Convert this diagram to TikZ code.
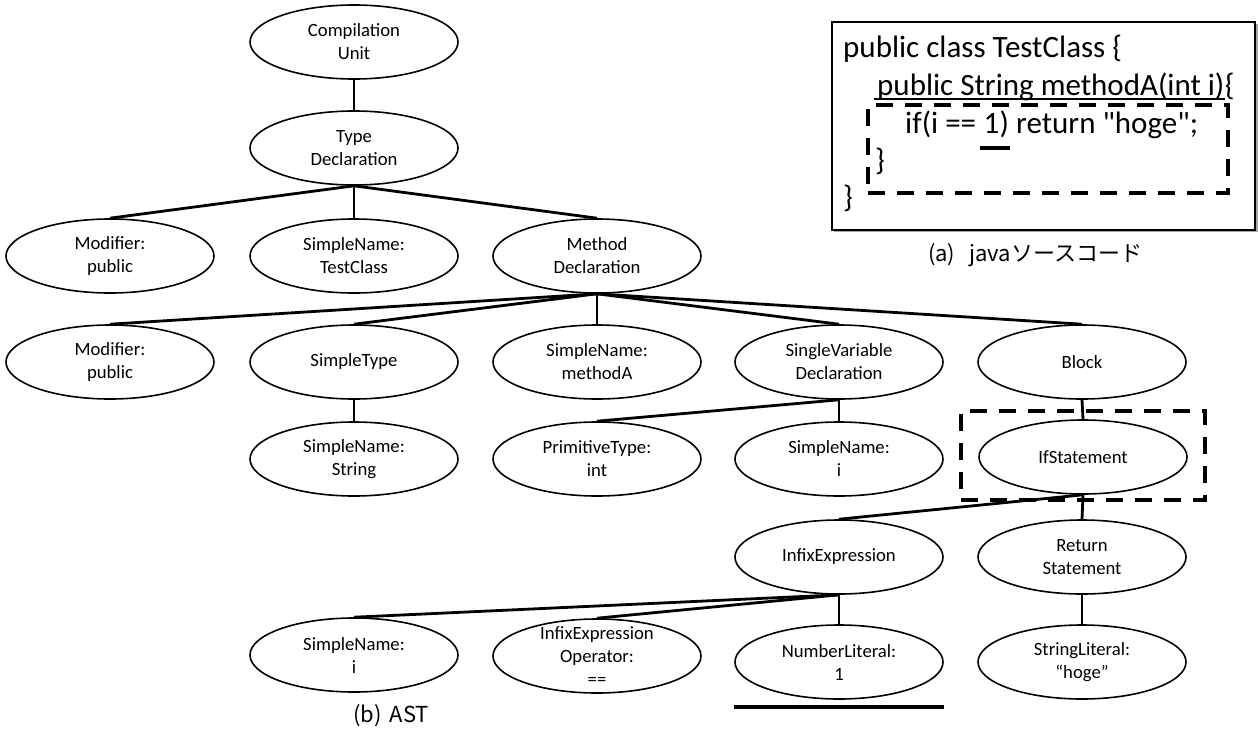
\documentclass[tikz,border=0pt]{standalone}
\usepackage{fontspec}
\setmainfont{Carlito}
\newfontfamily\jpfont{Noto Sans CJK JP}
\usetikzlibrary{shapes.geometric}
\begin{document}
\begin{tikzpicture}[x=1pt,y=-1pt,
  tn/.style={ellipse, draw, line width=1.6pt, minimum width=208pt, minimum height=74pt, inner sep=0pt},
  lb/.style={align=center, font=\fontsize{18.7}{23}\selectfont, inner sep=0pt},
  conn/.style={line width=2.8pt},
  dbox/.style={draw, line width=4.5pt, dash pattern=on 17pt off 12pt, inner sep=0pt},
  codeline/.style={anchor=base west, inner sep=0pt, font=\fontsize{31}{37}\selectfont},
  captext/.style={font=\jpfont\fontsize{22}{26}\selectfont, inner sep=0pt}]
\useasboundingbox (0,0) rectangle (1258,731);

% ---- tree nodes
\node[tn, label={[lb]center:Compilation\\Unit}] (cu) at (354,42) {};
\node[tn, label={[lb]center:Type\\Declaration}] (td) at (354,148) {};

\node[tn, label={[lb]center:Modifier:\\public}] (mod1) at (110,256) {};
\node[tn, label={[lb]center:SimpleName:\\TestClass}] (sntc) at (354,256) {};
\node[tn, label={[lb]center:Method\\Declaration}] (md) at (597,256) {};

\node[tn, label={[lb]center:Modifier:\\public}] (mod2) at (110,362) {};
\node[tn, label={[lb]center:SimpleType}] (st) at (354,362) {};
\node[tn, label={[lb]center:SimpleName:\\methodA}] (snm) at (597,362) {};
\node[tn, label={[lb]center:SingleVariable\\Declaration}] (svd) at (839,362) {};
\node[tn, label={[lb]center:Block}] (blk) at (1082,362) {};

\node[tn, label={[lb]center:SimpleName:\\String}] (sns) at (354,459) {};
\node[tn, label={[lb]center:PrimitiveType:\\int}] (pt) at (597,459) {};
\node[tn, label={[lb]center:SimpleName:\\i}] (sni) at (839,459) {};
\node[tn, label={[lb]center:IfStatement}] (ifs) at (1083,457) {};

\node[tn, label={[lb]center:InfixExpression}] (inf) at (839,557) {};
\node[tn, label={[lb]center:Return\\Statement}] (ret) at (1082,557) {};

\node[tn, label={[lb]center:SimpleName:\\i}] (sni2) at (354,655) {};
\node[tn, label={[lb]center:InfixExpression\\Operator:\\==}] (op) at (597,656) {};
\node[tn, label={[lb]center:NumberLiteral:\\1}] (nl) at (839,662) {};
\node[tn, label={[lb]center:StringLiteral:\\“hoge”}] (sl) at (1082,662) {};

% ---- edges
\draw[conn] (cu.south) -- (td.north);
\draw[conn] (td.south) -- (mod1.north);
\draw[conn] (td.south) -- (sntc.north);
\draw[conn] (td.south) -- (md.north);
\draw[conn] (md.south) -- (mod2.north);
\draw[conn] (md.south) -- (st.north);
\draw[conn] (md.south) -- (snm.north);
\draw[conn] (md.south) -- (svd.north);
\draw[conn] (md.south) -- (blk.north);
\draw[conn] (st.south) -- (sns.north);
\draw[conn] (svd.south) -- (pt.north);
\draw[conn] (svd.south) -- (sni.north);
\draw[conn] (blk.south) -- (ifs.north);
\draw[conn] (ifs.south) -- (inf.north);
\draw[conn] (ifs.south) -- (ret.north);
\draw[conn] (inf.south) -- (sni2.north);
\draw[conn] (inf.south) -- (op.north);
\draw[conn] (inf.south) -- (nl.north);
\draw[conn] (ret.south) -- (sl.north);

% ---- highlight around IfStatement and underline of NumberLiteral
\node[dbox, minimum width=244pt, minimum height=89pt] (ifbox) at (1083,455.5) {};
\draw[line width=4pt] ([yshift=-45pt]nl.west) -- ([yshift=-45pt]nl.east);

% ---- code box
\fill[black!35] (834,24) rectangle (1258,232);
\node[draw, fill=white, line width=1.6pt, minimum width=423pt, minimum height=208pt, inner sep=0pt] (codebox) at (1043.5,126) {};
\node[codeline] (l1) at (843,57) {public class TestClass \{};
\node[codeline] (l2) at (877,95) {public String methodA(int i)};
\node[codeline] (l2b) at (l2.base east) {\{};
\draw[line width=1.5pt] ([xshift=-3pt,yshift=-4pt]l2.base west) -- ([yshift=-4pt]l2.base east);
\node[codeline] (l3a) at (905,133) {if(i ==\ \mbox{}};
\node[codeline] (l3b) at (l3a.base east) {1};
\node[codeline] (l3c) at (l3b.base east) {) return \textquotedbl hoge\textquotedbl;};
\draw[line width=4pt] ([xshift=-3pt,yshift=-15pt]l3b.base west) -- ([xshift=10pt,yshift=-15pt]l3b.base east);
\node[codeline] (l4) at (875,170) {\}};
\node[codeline] (l5) at (843,207) {\}};
\node[dbox, minimum width=360pt, minimum height=88pt] (codehl) at (1048,149) {};

% ---- captions
\node[captext] (capa) at (1035,255) {(a)\hspace{14pt}javaソースコード};
\node[captext] (capb) at (391,716) {(b)\hspace{8pt}AST};
\end{tikzpicture}
\end{document}
